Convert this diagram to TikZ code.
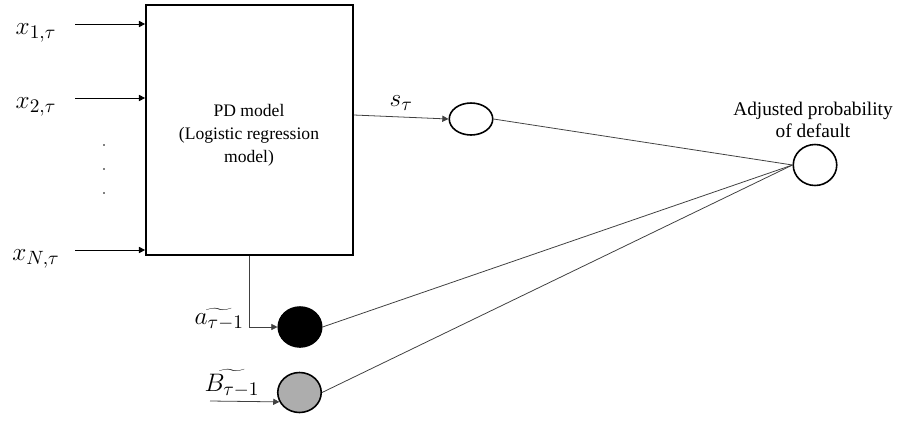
\documentclass[tikz,border=0pt]{standalone}
\usepackage{fontspec}
\setmainfont{Liberation Serif}
\usetikzlibrary{arrows.meta,shapes.geometric}

\tikzset{
    feed/.style={-{Triangle[length=3.5pt,width=3.5pt]}, line width=0.5pt},
    link/.style={black!75, line width=0.45pt},
    unit/.style={ellipse, draw, line width=0.9pt, minimum width=0.87cm, minimum height=0.8cm, inner sep=0pt},
    sym/.style={font=\fontsize{15}{17}\selectfont}
}

\begin{document}
\begin{tikzpicture}[x=0.02cm, y=-0.02cm]
            \useasboundingbox (0,0) rectangle (898,423);

            % logistic regression block
            \node[draw, line width=1pt, minimum width=4.14cm, minimum height=5cm] (pd) at (249.5,130) {};
            \node[align=center, font=\fontsize{10}{13}\selectfont] (pdtext) at (249,135)
                {PD model\\(Logistic regression\\model)};

            % inputs
            \foreach \i/\y/\lab in {1/24/{x_{1,\tau}}, 2/98/{x_{2,\tau}}, N/250/{x_{N,\tau}}}{
                \coordinate (in\i) at (75,\y);
                \node[sym] (lab\i) at (36,\y+9) {$\lab$};
                \draw[feed] (in\i) -- (in\i -| pd.west);
            }
            \foreach \y in {145,169,193}{
                \fill (104,\y) circle (0.55pt);
            }

            % score and extra units
            \node[unit, minimum height=0.64cm] (s) at (471,119) {};
            \node[unit, fill=black] (a) at (300,327) {};
            \node[unit, fill=black!32] (b) at (299.5,392.5) {};
            \node[unit, minimum height=0.82cm] (out) at (815,165) {};

            \draw[feed, link] ([yshift=0.3cm]pd.east) -- node[above, sym, black] {$s_\tau$} (s.west);
            \draw[feed, link] (pd.south) |- (a.west);
            \node[anchor=east, sym] (alab) at (250,319) {$\widetilde{a_{\tau-1}}$};

            \coordinate (b0) at (210,401);
            \draw[feed, link] (b0) -- (b.205);
            \node[sym] (blab) at (232,383) {$\widetilde{B_{\tau-1}}$};

            \foreach \n in {s,a,b}{
                \draw[link] (\n.east) -- (out.west);
            }
            \node[align=center, font=\fontsize{11}{12.5}\selectfont] (outlab) at (813,120) {Adjusted probability\\of default};
        \end{tikzpicture}
\end{document}
